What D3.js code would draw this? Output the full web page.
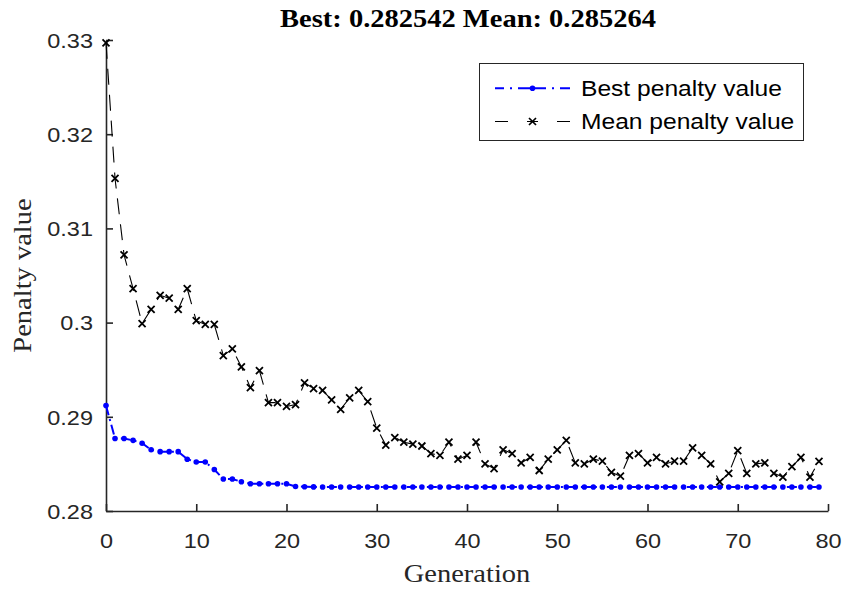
<!DOCTYPE html>
<html>
<head>
<meta charset="utf-8">
<script src="https://cdn.jsdelivr.net/npm/d3@7"></script>
<style>
  body { margin: 0; background: #fff; }
  svg { display: block; }
</style>
</head>
<body>
<div id="chart"></div>
<script>
// Generations and per-generation penalty values
var generations = d3.range(0, 80);

var bestPenalty = [
    0.2912, 0.2877, 0.2877, 0.2875, 0.2872, 0.2865, 0.2863, 0.2863, 0.2863, 0.2855,
    0.2852, 0.2852, 0.2844, 0.2834, 0.2834, 0.2831, 0.2829, 0.2829, 0.2829, 0.2829,
    0.2829, 0.2826, 0.28258, 0.28256, 0.28255, 0.28255, 0.28255, 0.28255, 0.28255, 0.28255,
    0.28255, 0.282545, 0.282545, 0.282545, 0.282545, 0.282545, 0.282542, 0.282542, 0.282542, 0.282542,
    0.282542, 0.282542, 0.282542, 0.282542, 0.282542, 0.282542, 0.282542, 0.282542, 0.282542, 0.282542,
    0.282542, 0.282542, 0.282542, 0.282542, 0.282542, 0.282542, 0.282542, 0.282542, 0.282542, 0.282542,
    0.282542, 0.282542, 0.282542, 0.282542, 0.282542, 0.282542, 0.282542, 0.282542, 0.282542, 0.282542,
    0.282542, 0.282542, 0.282542, 0.282542, 0.282542, 0.282542, 0.282542, 0.282542, 0.282542, 0.282542
];

var meanPenalty = [
    0.3297, 0.3153, 0.3072, 0.3036, 0.2999, 0.3014, 0.3029, 0.3026, 0.3014, 0.3036,
    0.3002, 0.2998, 0.2998, 0.2965, 0.2972, 0.2953, 0.2931, 0.2949, 0.2915, 0.2915,
    0.2911, 0.2913, 0.2936, 0.2930, 0.2928, 0.2918, 0.2908, 0.2920, 0.2928, 0.2916,
    0.2888, 0.2870, 0.2878, 0.2873, 0.2871, 0.2869, 0.2861, 0.2859, 0.2873, 0.2855,
    0.2859, 0.2873, 0.2850, 0.2845, 0.2865, 0.2861, 0.2851, 0.2857, 0.2843, 0.2855,
    0.2865, 0.2875, 0.2851, 0.2850, 0.2855, 0.2853, 0.2841, 0.2837, 0.2859, 0.2861,
    0.2851, 0.2857, 0.2850, 0.2853, 0.2853, 0.2867, 0.2859, 0.2850, 0.2831, 0.2840,
    0.2864, 0.2840, 0.2850, 0.2851, 0.2840, 0.2836, 0.2847, 0.2857, 0.2836, 0.285264
];

var xTicks = [0, 10, 20, 30, 40, 50, 60, 70, 80];
var yTicks = [0.28, 0.29, 0.30, 0.31, 0.32, 0.33];
var yTickLabels = ["0.28", "0.29", "0.3", "0.31", "0.32", "0.33"];

var seriesNames = ["Best penalty value", "Mean penalty value"];
var titleText = "Best: 0.282542 Mean: 0.285264";

// Layout
var svgWidth = 842;
var svgHeight = 589;
var plot = { left: 106, right: 828, top: 40, bottom: 511 };
var squash = 0.87;   // text is drawn slightly compressed vertically
var axisColor = "#262626";
var sans = "'Liberation Sans', Arial, Helvetica, sans-serif";
var serif = "'Liberation Serif', 'Times New Roman', serif";

var svg = d3.select("#chart")
    .append("svg")
    .attr("width", svgWidth)
    .attr("height", svgHeight)
    .style("background", "#fff");

var xLinearScale = d3.scaleLinear()
    .domain([0, 80])
    .range([plot.left, plot.right]);

var yLinearScale = d3.scaleLinear()
    .domain([0.28, 0.33])
    .range([plot.bottom, plot.top]);

// Axes: ticks point inward, no box
var bottomAxis = d3.axisBottom(xLinearScale)
    .tickValues(xTicks)
    .tickSizeInner(-7)
    .tickSizeOuter(0)
    .tickFormat(d3.format("d"));

var leftAxis = d3.axisLeft(yLinearScale)
    .tickValues(yTicks)
    .tickSizeInner(-7)
    .tickSizeOuter(0)
    .tickFormat((d, i) => yTickLabels[i]);

var xAxis = svg.append("g")
    .attr("transform", `translate(0, ${plot.bottom})`)
    .call(bottomAxis);

var yAxis = svg.append("g")
    .attr("transform", `translate(${plot.left}, 0)`)
    .call(leftAxis);

[xAxis, yAxis].forEach(ax => {
    ax.select(".domain").attr("stroke", axisColor).attr("stroke-width", 1.6);
    ax.selectAll(".tick line").attr("stroke", axisColor).attr("stroke-width", 1.6);
    ax.selectAll(".tick text")
        .attr("fill", axisColor)
        .style("font-family", sans)
        .style("font-size", "23.5px")
        .attr("x", null)
        .attr("y", null)
        .attr("dy", null);
});

xAxis.selectAll(".tick text")
    .attr("transform", `translate(0, 37) scale(1, ${squash})`);
yAxis.selectAll(".tick text")
    .attr("transform", `translate(-13, 7.3) scale(1, ${squash})`);

// Best penalty: blue dash-dot line with point markers
var lineGen = d3.line()
    .x((d, i) => xLinearScale(generations[i]))
    .y(d => yLinearScale(d));

svg.append("path")
    .datum(bestPenalty)
    .attr("d", lineGen)
    .attr("fill", "none")
    .attr("stroke", "#0000ff")
    .attr("stroke-width", 2)
    .attr("stroke-dasharray", "10,4,2,4");

svg.append("g").selectAll("circle")
    .data(bestPenalty)
    .enter()
    .append("circle")
    .attr("cx", (d, i) => xLinearScale(generations[i]))
    .attr("cy", d => yLinearScale(d))
    .attr("r", 2.8)
    .attr("fill", "#0000ff");

// Mean penalty: black dashed line with x markers
var crossPath = "M-3.5,-3.5L3.5,3.5M-3.5,3.5L3.5,-3.5";

svg.append("path")
    .datum(meanPenalty)
    .attr("d", lineGen)
    .attr("fill", "none")
    .attr("stroke", "#000")
    .attr("stroke-width", 1.1)
    .attr("stroke-dasharray", "16,10");

svg.append("g").selectAll("path")
    .data(meanPenalty)
    .enter()
    .append("path")
    .attr("transform", (d, i) => `translate(${xLinearScale(generations[i])}, ${yLinearScale(d)})`)
    .attr("d", crossPath)
    .attr("stroke", "#000")
    .attr("stroke-width", 1.8)
    .attr("fill", "none");

// Title
svg.append("text")
    .attr("transform", `translate(468, 27.3) scale(1, ${squash})`)
    .attr("text-anchor", "middle")
    .style("font-family", serif)
    .style("font-weight", "bold")
    .style("font-size", "28.5px")
    .attr("fill", "#000")
    .text(titleText);

// Axis labels
svg.append("text")
    .attr("transform", `translate(467, 582) scale(1, ${squash})`)
    .attr("text-anchor", "middle")
    .style("font-family", serif)
    .style("font-size", "28.5px")
    .attr("fill", axisColor)
    .text("Generation");

svg.append("text")
    .attr("transform", `translate(31, 275.5) scale(${squash}, 1) rotate(-90)`)
    .attr("text-anchor", "middle")
    .style("font-family", serif)
    .style("font-size", "28.5px")
    .attr("fill", axisColor)
    .text("Penalty value");

// Legend
var legend = svg.append("g");

legend.append("rect")
    .attr("x", 479.5)
    .attr("y", 63.5)
    .attr("width", 324)
    .attr("height", 77)
    .attr("fill", "#fff")
    .attr("stroke", axisColor)
    .attr("stroke-width", 1);

var rowY = [88.3, 121.5];

legend.append("line")
    .attr("x1", 495).attr("x2", 570)
    .attr("y1", rowY[0]).attr("y2", rowY[0])
    .attr("stroke", "#0000ff")
    .attr("stroke-width", 2)
    .attr("stroke-dasharray", "9,6,2,6,28,6,2,6,10");
legend.append("circle")
    .attr("cx", 532.5).attr("cy", rowY[0])
    .attr("r", 2.8)
    .attr("fill", "#0000ff");

legend.append("line")
    .attr("x1", 495).attr("x2", 570)
    .attr("y1", rowY[1]).attr("y2", rowY[1])
    .attr("stroke", "#000")
    .attr("stroke-width", 1.1)
    .attr("stroke-dasharray", "13,19,11,19,13");
legend.append("path")
    .attr("transform", `translate(532.5, ${rowY[1]})`)
    .attr("d", crossPath)
    .attr("stroke", "#000")
    .attr("stroke-width", 1.7);

legend.selectAll("text.label")
    .data(seriesNames)
    .enter()
    .append("text")
    .attr("class", "label")
    .attr("transform", (d, i) => `translate(581, ${rowY[i] + 7.5}) scale(1, ${squash})`)
    .style("font-family", sans)
    .style("font-size", "24.6px")
    .attr("fill", "#000")
    .text(d => d);
</script>
</body>
</html>
